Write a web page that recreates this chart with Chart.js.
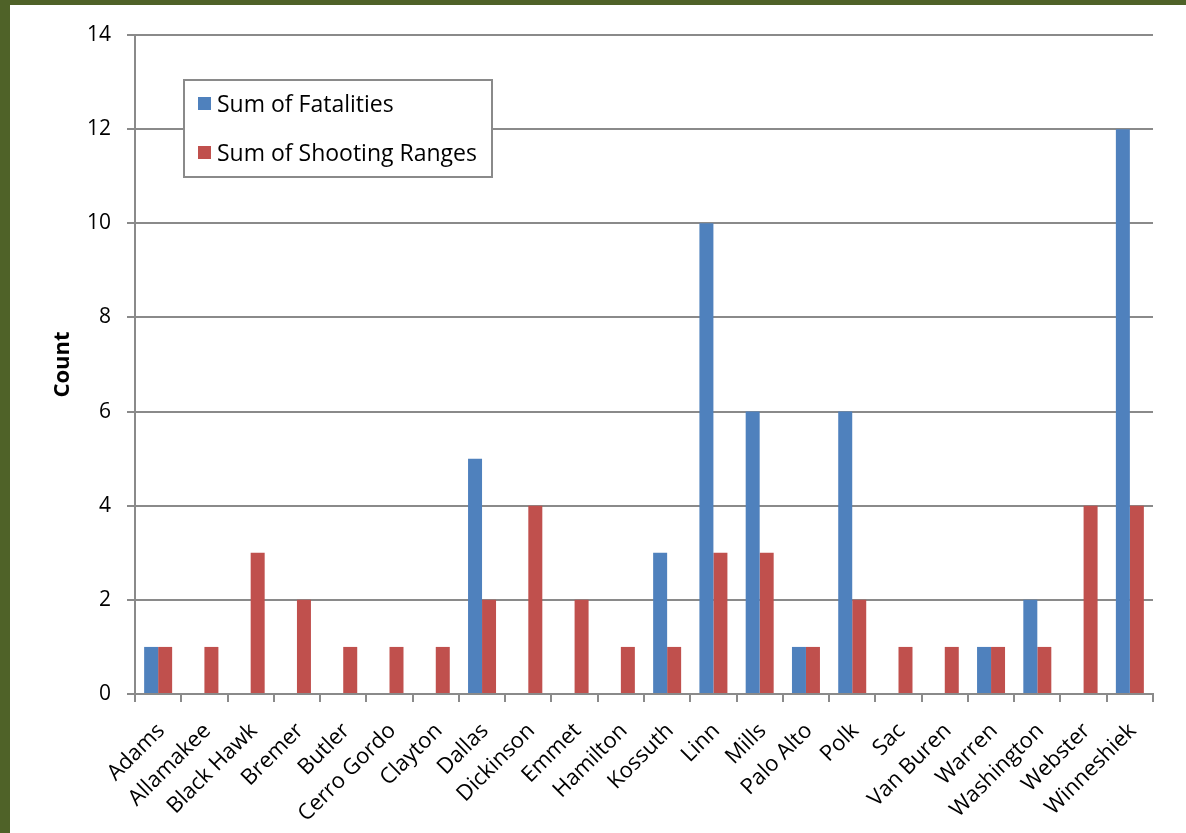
<!DOCTYPE html>
<html>
<head>
<meta charset="utf-8">
<script src="https://cdn.jsdelivr.net/npm/chart.js@4.4.1/dist/chart.umd.min.js"></script>
<style>
  html, body { margin: 0; padding: 0; background: #ffffff; }
  #wrap { width: 1186px; height: 833px; position: relative; }
  canvas { display: block; }
</style>
</head>
<body>
<div id="wrap"><canvas id="chart" width="1186" height="833"></canvas></div>
<script>
// Counties along the category axis
const counties = ["Adams", "Allamakee", "Black Hawk", "Bremer", "Butler", "Cerro Gordo", "Clayton",
  "Dallas", "Dickinson", "Emmet", "Hamilton", "Kossuth", "Linn", "Mills", "Palo Alto", "Polk",
  "Sac", "Van Buren", "Warren", "Washington", "Webster", "Winneshiek"];

// Series values per county (null = no entry)
const fatalities = [1, null, null, null, null, null, null, 5, null, null, null, 3, 10, 6, 1, 6,
  null, null, 1, 2, null, 12];
const shootingRanges = [1, 1, 3, 2, 1, 1, 1, 2, 4, 2, 1, 1, 3, 3, 1, 2, 1, 1, 1, 1, 4, 4];

const seriesNames = ["Sum of Fatalities", "Sum of Shooting Ranges"];
const yAxisTitle = "Count";

const FONT = "'Open Sans', 'Liberation Sans', sans-serif";
const GRID = "#8a8a8a";

// Page frame and white background
const framePlugin = {
  id: "frame",
  beforeDraw(chart) {
    const ctx = chart.ctx;
    ctx.save();
    ctx.fillStyle = "#ffffff";
    ctx.fillRect(0, 0, chart.width, chart.height);
    ctx.fillStyle = "#4f6228";
    ctx.fillRect(0, 0, chart.width, 5);
    ctx.fillRect(0, 0, 10, chart.height);
    ctx.restore();
  }
};

// Boxed legend placed inside the plot area
const boxLegend = {
  id: "boxLegend",
  afterDraw(chart) {
    const ctx = chart.ctx;
    const x = 184, y = 80, w = 308, h = 97;
    ctx.save();
    ctx.fillStyle = "#ffffff";
    ctx.fillRect(x, y, w, h);
    ctx.strokeStyle = "#8a8a8a";
    ctx.lineWidth = 2;
    ctx.strokeRect(x, y, w, h);
    ctx.font = "23px " + FONT;
    ctx.textBaseline = "middle";
    ctx.textAlign = "left";
    chart.data.datasets.forEach((ds, i) => {
      const cy = y + 24 + i * 49;
      ctx.fillStyle = ds.backgroundColor;
      ctx.fillRect(x + 14, cy - 7, 13, 13);
      ctx.fillStyle = "#000000";
      ctx.fillText(ds.label, x + 33, cy + 1);
    });
    ctx.restore();
  }
};

new Chart(document.getElementById("chart"), {
  type: "bar",
  data: {
    labels: counties,
    datasets: [
      { label: seriesNames[0], data: fatalities, backgroundColor: "#4f81bd",
        categoryPercentage: 0.605, barPercentage: 1.0 },
      { label: seriesNames[1], data: shootingRanges, backgroundColor: "#c0504d",
        categoryPercentage: 0.605, barPercentage: 1.0 }
    ]
  },
  options: {
    responsive: false,
    animation: false,
    layout: { padding: { left: 50, right: 33, top: 35, bottom: 0 } },
    plugins: {
      legend: { display: false },
      tooltip: { enabled: false }
    },
    scales: {
      x: {
        grid: { display: true, drawOnChartArea: false, drawTicks: true, tickLength: 8,
          color: GRID, lineWidth: 2, offset: true },
        border: { display: true, color: GRID, width: 2 },
        ticks: { color: "#000000", font: { family: FONT, size: 22 },
          maxRotation: 45, minRotation: 45, autoSkip: false, padding: 16, labelOffset: 3 },
        afterFit(scale) { scale.height = 139; }
      },
      y: {
        min: 0, max: 14,
        ticks: { stepSize: 2, color: "#000000", font: { family: FONT, size: 21 }, padding: 16 },
        grid: { color: GRID, lineWidth: 2, tickLength: 8 },
        border: { display: true, color: GRID, width: 2 },
        title: { display: true, text: yAxisTitle, color: "#000000",
          font: { family: FONT, size: 22, weight: "bold" }, padding: 0 },
        afterFit(scale) { scale.width = 85; }
      }
    }
  },
  plugins: [framePlugin, boxLegend]
});
</script>
</body>
</html>
